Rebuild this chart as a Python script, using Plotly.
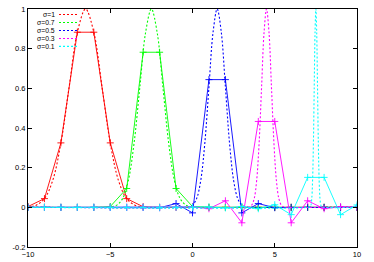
import plotly.graph_objects as go

# ---- data ----
sigma_labels = ["σ=1", "σ=0.7", "σ=0.5", "σ=0.3", "σ=0.1"]
colors = ["#ff0000", "#00ff00", "#0000ff", "#ff00ff", "#00ffff"]

# sample positions (integers)
x_samples = [-10, -9, -8, -7, -6, -5, -4, -3, -2, -1, 0, 1, 2, 3, 4, 5, 6, 7, 8, 9, 10]

# sampled (solid) series
y_s1 = [0.004, 0.044, 0.325, 0.883, 0.883, 0.325, 0.044, 0.003, 0, 0, 0, 0, 0, 0, 0, 0, 0, 0, 0, 0, 0]
y_s07 = [0, 0, 0, 0, 0, 0.004, 0.095, 0.782, 0.782, 0.095, 0.004, 0, 0, 0, 0, 0, 0, 0, 0, 0, 0]
y_s05 = [0, 0, 0, 0, 0, 0, 0, 0, -0.002, 0.019, -0.028, 0.644, 0.644, -0.028, 0.019, -0.002, 0, 0, 0, 0, 0]
y_s03 = [0, 0, 0, 0, 0, 0, 0, 0, 0, 0, 0.003, -0.007, 0.033, -0.078, 0.433, 0.433, -0.078, 0.033, -0.007, 0.003, 0]
y_s01 = [0, 0, 0, 0, 0, 0, 0, 0, 0, 0, 0, 0.002, -0.003, 0.004, -0.007, 0.013, -0.037, 0.151, 0.151, -0.037, 0.012]

# continuous (dotted) curves
x_c1 = [-10.5, -10, -9.5, -9, -8.5, -8, -7.5, -7, -6.5, -6, -5.5, -5, -4.5, -4, -3.5, -3, -2.5, 10]
x_c07 = [-10, -5.3, -4.95, -4.6, -4.25, -3.9, -3.55, -3.2, -2.85, -2.5, -2.15, -1.8, -1.45, -1.1, -0.75, -0.4, -0.05, 0.3, 10]
x_c05 = [-10, -0.5, -0.25, 0, 0.25, 0.5, 0.75, 1, 1.25, 1.5, 1.75, 2, 2.25, 2.5, 2.75, 3, 3.25, 3.5, 10]
x_c03 = [-10, 3.3, 3.45, 3.6, 3.75, 3.9, 4.05, 4.2, 4.35, 4.5, 4.65, 4.8, 4.95, 5.1, 5.25, 5.4, 5.55, 5.7, 10]
x_c01 = [-10, 7.1, 7.15, 7.2, 7.25, 7.3, 7.35, 7.4, 7.45, 7.5, 7.55, 7.6, 7.65, 7.7, 7.75, 7.8, 7.85, 7.9, 10]

y_c1 = [0.0003, 0.0022, 0.0111, 0.0439, 0.1353, 0.3247, 0.6065, 0.8825, 1, 0.8825, 0.6065, 0.3247, 0.1353, 0.0439, 0.0111, 0.0022, 0.0003, 0]
y_c07 = [0, 0.0003, 0.0022, 0.0111, 0.0439, 0.1353, 0.3247, 0.6065, 0.8825, 1, 0.8825, 0.6065, 0.3247, 0.1353, 0.0439, 0.0111, 0.0022, 0.0003, 0]
y_c05 = list(y_c07)
y_c03 = list(y_c07)
y_c01 = list(y_c07)

x_ticks = [-10, -5, 0, 5, 10]
y_ticks = [-0.2, 0, 0.2, 0.4, 0.6, 0.8, 1]
y_tick_text = ["-0.2", "0", "0.2", "0.4", "0.6", "0.8", "1"]

curves_x = [x_c1, x_c07, x_c05, x_c03, x_c01]
curves_y = [y_c1, y_c07, y_c05, y_c03, y_c01]
samples_y = [y_s1, y_s07, y_s05, y_s03, y_s01]

FONT = "Liberation Sans, Arial, sans-serif"

fig = go.Figure()
for cx, cy, sy, col, lab in zip(curves_x, curves_y, samples_y, colors, sigma_labels):
    fig.add_trace(go.Scatter(x=cx, y=cy, mode="lines", name=lab,
                             line=dict(color=col, width=1.1, dash="2px,2px", shape="spline", smoothing=1),
                             showlegend=False))
    fig.add_trace(go.Scatter(x=x_samples, y=sy, mode="lines+markers",
                             line=dict(color=col, width=0.9),
                             marker=dict(symbol="cross-thin", size=5, line=dict(color=col, width=0.9)),
                             showlegend=False))

# legend (text right-aligned, followed by a dotted sample), gnuplot style
L, T, H = 28, 9, 238.5
W = 374 - 28 - 17
row_py = [14.5, 22.5, 30.5, 38.5, 46.5]
for lab, col, py in zip(sigma_labels, colors, row_py):
    yp = 1 - (py - T) / H
    fig.add_annotation(x=(56 - L) / W, y=yp, xref="paper", yref="paper", text=lab,
                       showarrow=False, xanchor="right", yanchor="middle", borderpad=0,
                       font=dict(family=FONT, size=6.8, color="black"))
    fig.add_shape(type="line", xref="paper", yref="paper",
                  x0=(59 - L) / W, x1=(79 - L) / W, y0=yp, y1=yp,
                  line=dict(color=col, width=1.1, dash="2px,2px"))

axis_common = dict(showline=True, linecolor="black", linewidth=1, mirror="ticks",
                   ticks="inside", ticklen=4, tickcolor="black", tickwidth=1,
                   showgrid=False, zeroline=False, automargin=False,
                   tickfont=dict(family=FONT, size=7.5, color="black"))

fig.update_xaxes(range=[-10, 10], tickvals=x_ticks, **axis_common)
fig.update_yaxes(range=[-0.2, 1], tickvals=y_ticks, ticktext=y_tick_text, **axis_common)

fig.update_layout(template="none", width=374, height=262,
                  margin=dict(l=28, r=17, t=9, b=14.5, autoexpand=False),
                  plot_bgcolor="white", paper_bgcolor="white", showlegend=False)

fig.write_html("out.html", config={"displayModeBar": False},
               post_script="document.body.style.margin='0';")
